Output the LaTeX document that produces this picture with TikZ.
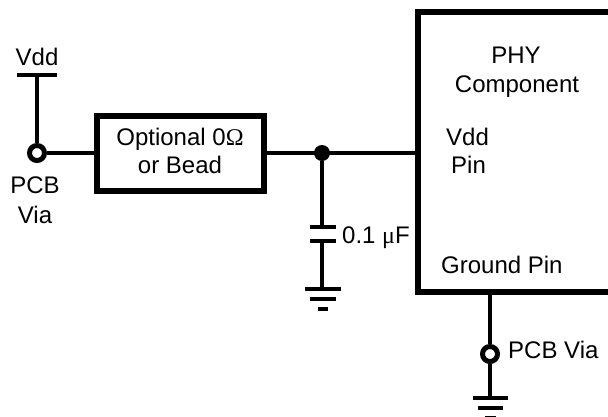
\documentclass[tikz,border=0pt]{standalone}
\usepackage{fontspec}
\setmainfont{Liberation Sans}
\newfontfamily\symfont{Liberation Serif}
\begin{document}
\begin{tikzpicture}[x=1pt,y=-1pt,
  wire/.style={line width=4pt,black},
  heavy/.style={line width=6pt,black},
  via/.style={circle,draw=black,fill=white,line width=5pt,minimum size=15pt,inner sep=0pt},
  dot/.style={circle,fill=black,minimum size=16pt,inner sep=0pt},
  txt/.style={inner sep=0pt,anchor=base,font=\fontsize{24}{28}\selectfont},
  ltxt/.style={inner sep=0pt,anchor=base west,font=\fontsize{24}{28}\selectfont},
  beadbox/.style={draw=black,line width=6pt,fill=white,inner sep=0pt}]
\useasboundingbox (0,0) rectangle (608,416);
\clip (0,0) rectangle (608,416);
% Supply
\coordinate (vddtop) at (37,75);
\coordinate (vddl) at (17,75);
\coordinate (vddr) at (57,75);
\node[txt] (vddlabel) at (37,65) {Vdd};
\node[via] (via1) at (37,153) {};
\draw[wire] (vddl) -- (vddr);
\draw[wire] (vddtop) -- (via1);
\node[txt] (pcb1) at (35,193) {PCB};
\node[txt] (via1label) at (35,223) {Via};
% Bead
\node[beadbox,minimum width=167pt,minimum height=75pt] (bead) at (180.5,153) {};
\node[txt] (beadl1) at (180,145) {Optional 0{\symfont Ω}};
\node[txt] (beadl2) at (180,173) {or Bead};
\draw[wire] (via1) -- (bead);
% PHY outline
\coordinate (phytr) at (612,12);
\coordinate (phytl) at (418,12);
\coordinate (phybl) at (418,292);
\coordinate (phybr) at (612,292);
\coordinate (phypin) at (418,153);
\coordinate (phygnd) at (490,292);
\draw[heavy,miter limit=10] (phytr) -- (phytl) -- (phybl) -- (phybr);
\node[dot] (junc) at (322,153) {};
\draw[wire] (bead) -- (phypin);
\node[txt] (phy1) at (516,63) {PHY};
\node[txt] (phy2) at (517,92) {Component};
\node[ltxt] (phy3) at (446,145) {Vdd};
\node[ltxt] (phy4) at (451,173) {Pin};
\node[ltxt] (phy5) at (441,273) {Ground Pin};
% Capacitor
\coordinate (c1) at (322,227);
\coordinate (c2) at (322,241);
\coordinate (g1) at (322,289);
\draw[wire] (junc) -- (c1);
\draw[wire] (c2) -- (g1);
\draw[wire] (310,227) -- (336,227);
\draw[wire] (310,241) -- (336,241);
\draw[wire] (305,289) -- (341,289);
\draw[wire] (310,299) -- (336,299);
\draw[wire] (318,309) -- (328,309);
\node[ltxt] (caplabel) at (342,243) {0.1 {\symfont μ}F};
% Ground via
\node[via] (via2) at (490,354) {};
\coordinate (g2) at (490,398);
\draw[wire] (phygnd) -- (via2);
\draw[wire] (via2) -- (g2);
\draw[wire] (473,398) -- (508,398);
\draw[wire] (478,408) -- (503,408);
\draw[wire] (485,418) -- (496,418);
\node[ltxt] (via2label) at (508,358) {PCB Via};
\end{tikzpicture}
\end{document}
